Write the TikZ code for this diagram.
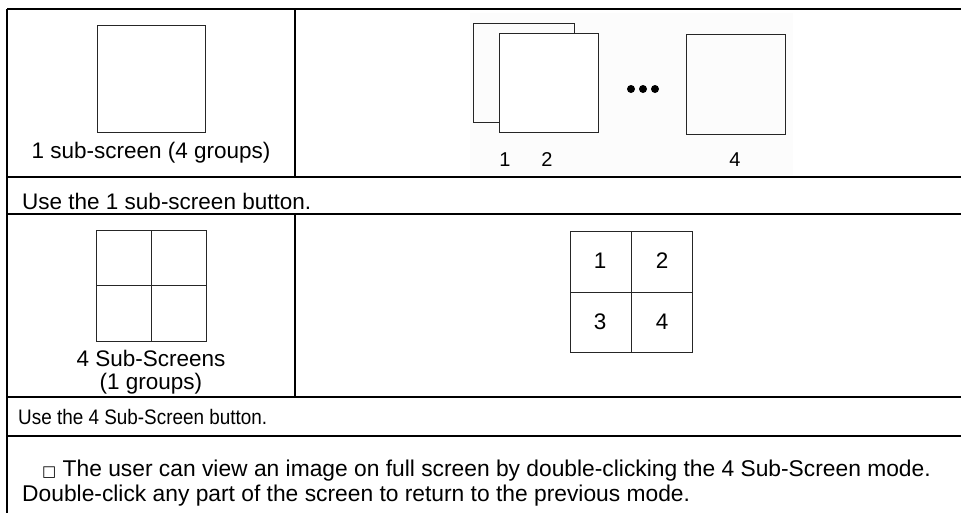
\documentclass[tikz,border=0pt]{standalone}
\usepackage{fontspec}
\setmainfont{Liberation Sans}
\newfontfamily\boxfont{DejaVu Sans}
\tikzset{
  rule/.style={line width=2.6pt},
  screen/.style={draw=black!85, line width=0.9pt},
  bigtext/.style={font=\fontsize{22.5}{24}\selectfont, inner sep=0pt},
  smalltext/.style={font=\fontsize{21}{24}\selectfont, inner sep=0pt, xscale=0.9},
  notetext/.style={font=\fontsize{22.8}{24}\selectfont, inner sep=0pt},
}

\begin{document}
\begin{tikzpicture}[x=1pt,y=-1pt]
\useasboundingbox (0,0) rectangle (961,512);
\clip (0,0) rectangle (961,512);
% table rules
\draw[rule] (7,9) -- (1000,9);
\draw[rule] (7,9) -- (7,600);
\draw[rule] (295,9) -- (295,177);
\draw[rule] (295,214) -- (295,397);
\draw[rule] (7,177) -- (1000,177);
\draw[rule] (7,214) -- (1000,214);
\draw[rule] (7,397) -- (1000,397);
\draw[rule] (7,436) -- (1000,436);
% one sub-screen
\draw[screen] (97,25) rectangle (205,132);
\node[bigtext, anchor=base] (onelabel) at (151,158) {1 sub-screen (4 groups)};
% groups
\fill[black!1] (470,13) rectangle (793,175);
\draw[screen] (473,23) rectangle (574,122);
\draw[screen, fill=white] (499,33) rectangle (598,132);
\draw[screen] (686,34) rectangle (785,134);
\fill (631,89) circle (4);
\fill (643,89) circle (4);
\fill (655,89) circle (4);
\node[bigtext, font=\fontsize{20}{24}\selectfont, anchor=base] (groupa) at (505,166) {1};
\node[bigtext, font=\fontsize{20}{24}\selectfont, anchor=base] (groupb) at (547,166) {2};
\node[bigtext, font=\fontsize{20}{24}\selectfont, anchor=base] (groupd) at (735,166) {4};
\node[bigtext, anchor=base west] (onebutton) at (22,209) {Use the 1 sub-screen button.};
% four sub-screens
\draw[screen] (96,230) rectangle (206,341);
\draw[screen] (151,230) -- (151,341);
\draw[screen] (96,285) -- (206,285);
\node[bigtext, anchor=base] (fourlabel) at (151,366) {4 Sub-Screens};
\node[bigtext, anchor=base] (fourgroups) at (151,389) {(1 groups)};
% numbered split
\draw[screen] (570,231) rectangle (692,352);
\draw[screen] (631,231) -- (631,352);
\draw[screen] (570,292) -- (692,292);
\node[bigtext] (cella) at (600,261) {1};
\node[bigtext] (cellb) at (662,261) {2};
\node[bigtext] (cellc) at (600,322) {3};
\node[bigtext] (celld) at (662,322) {4};
\node[smalltext, anchor=base west] (fourbutton) at (18,424) {Use the 4 Sub-Screen button.};
% note
\node[notetext, anchor=base west] (notea) at (42,476) {{\boxfont\fontsize{15}{20}\selectfont □} The user can view an image on full screen by double-clicking the 4 Sub-Screen mode.};
\node[notetext, anchor=base west] (noteb) at (22,501) {Double-click any part of the screen to return to the previous mode.};
\end{tikzpicture}
\end{document}
